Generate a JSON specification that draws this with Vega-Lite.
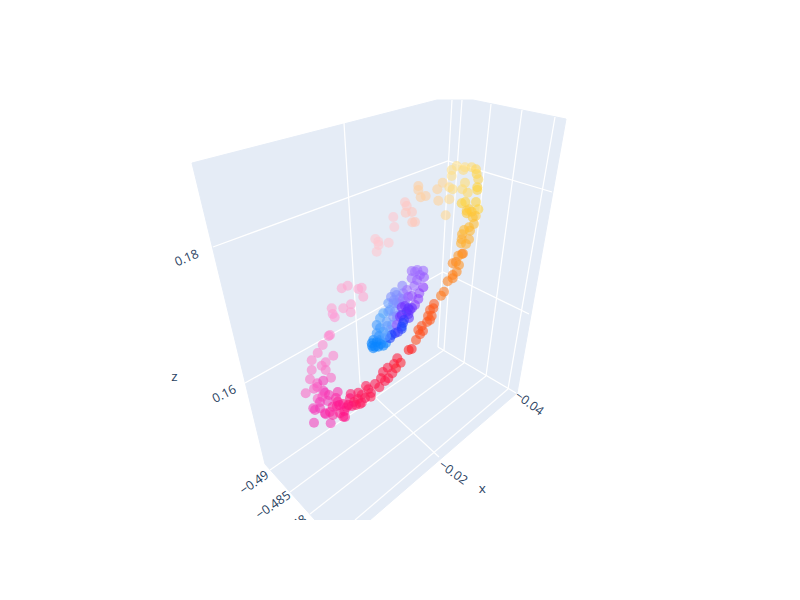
{"$schema":"https://vega.github.io/schema/vega-lite/v6.json","width":800,"height":600,"autosize":{"type":"fit","contains":"padding"},"padding":0,"background":"white","view":{"stroke":null},
"datasets":{
"pane":[{"sx":192,"sy":163,"i":0},{"sx":437,"sy":100,"i":1},{"sx":473,"sy":100,"i":2},{"sx":566,"sy":119,"i":3},{"sx":517,"sy":393,"i":4},{"sx":370,"sy":520,"i":5},{"sx":315,"sy":520,"i":6},{"sx":265,"sy":464,"i":7},{"sx":192,"sy":163,"i":8}],
"grid":[
{"g":"z18","sx":213,"sy":247,"i":0},{"g":"z18","sx":448,"sy":161,"i":1},{"g":"z18","sx":552,"sy":192,"i":2},
{"g":"z16","sx":245,"sy":383,"i":0},{"g":"z16","sx":443,"sy":272,"i":1},{"g":"z16","sx":529,"sy":314,"i":2},
{"g":"a","sx":452,"sy":100,"i":0},{"g":"a","sx":438,"sy":347,"i":1},
{"g":"b","sx":462,"sy":100,"i":0},{"g":"b","sx":444,"sy":350,"i":1},
{"g":"c","sx":491,"sy":104,"i":0},{"g":"c","sx":464,"sy":363,"i":1},
{"g":"d","sx":522,"sy":110,"i":0},{"g":"d","sx":486,"sy":376,"i":1},
{"g":"e","sx":555,"sy":117,"i":0},{"g":"e","sx":508,"sy":389,"i":1},
{"g":"x4","sx":516,"sy":393,"i":0},{"g":"x4","sx":438,"sy":347,"i":1},
{"g":"x2","sx":344,"sy":123,"i":0},{"g":"x2","sx":360,"sy":383,"i":1},{"g":"x2","sx":439,"sy":457,"i":2},
{"g":"y1","sx":270,"sy":470,"i":0},{"g":"y1","sx":444,"sy":350,"i":1},
{"g":"y2","sx":290,"sy":492,"i":0},{"g":"y2","sx":464,"sy":363,"i":1},
{"g":"y3","sx":310,"sy":514,"i":0},{"g":"y3","sx":486,"sy":376,"i":1},
{"g":"y4","sx":355,"sy":520,"i":0},{"g":"y4","sx":508,"sy":389,"i":1}
],
"points":[
{"sx":345,"sy":417,"p":17},{"sx":330.7,"sy":423.3,"p":16},{"sx":314,"sy":422.7,"p":16},{"sx":325.7,"sy":414.3,"p":16},{"sx":320,"sy":408.3,"p":16},{"sx":313.3,"sy":408.3,"p":16},{"sx":315,"sy":410,"p":16},{"sx":325,"sy":413.3,"p":16.4},{"sx":327.7,"sy":401,"p":16},{"sx":317.7,"sy":398.7,"p":15.7},{"sx":305.7,"sy":393.3,"p":15.6},{"sx":314,"sy":388.7,"p":15.7},{"sx":323.3,"sy":390.7,"p":16},{"sx":325,"sy":392.7,"p":16},{"sx":322.3,"sy":396.7,"p":15.8},{"sx":317.3,"sy":387,"p":15.7},{"sx":317.3,"sy":383.3,"p":15.7},{"sx":323.3,"sy":380.7,"p":16},{"sx":331,"sy":377.7,"p":15.6},{"sx":310,"sy":379.3,"p":15.5},{"sx":311.7,"sy":370,"p":15.4},{"sx":325.7,"sy":370,"p":15.5},{"sx":321.7,"sy":365.7,"p":15.4},{"sx":325.7,"sy":362.3,"p":15.4},{"sx":311.7,"sy":360.3,"p":15.3},{"sx":333.3,"sy":355.7,"p":15.3},{"sx":317.7,"sy":353,"p":15.3},{"sx":322.7,"sy":345,"p":15.2},{"sx":328.7,"sy":336,"p":15.3},{"sx":330,"sy":335,"p":15.2},
{"sx":334.7,"sy":317.3,"p":15},{"sx":332.7,"sy":314,"p":15},{"sx":331.7,"sy":308.3,"p":14.8},{"sx":343.3,"sy":308.3,"p":14.8},{"sx":351,"sy":304.3,"p":14.8},{"sx":350.7,"sy":312.3,"p":14.8},{"sx":341.7,"sy":288.3,"p":14.7},{"sx":347.7,"sy":285.7,"p":14.7},{"sx":358.3,"sy":289,"p":14.7},{"sx":361.7,"sy":287.7,"p":14.7},{"sx":363.3,"sy":296.7,"p":14.7},
{"sx":375.3,"sy":239,"p":14},{"sx":378.3,"sy":241.7,"p":14},{"sx":378.7,"sy":245,"p":14},{"sx":388.7,"sy":242.7,"p":14},{"sx":376.7,"sy":251.7,"p":14},
{"sx":393.3,"sy":217,"p":14},{"sx":394.3,"sy":227,"p":14},{"sx":405,"sy":202.3,"p":13.7},{"sx":406.7,"sy":206,"p":13.7},{"sx":412,"sy":212,"p":13.6},{"sx":405.7,"sy":212.7,"p":13.6},{"sx":415,"sy":222,"p":13.5},{"sx":412.3,"sy":222.3,"p":13.5},
{"sx":418.3,"sy":186,"p":13},{"sx":418.3,"sy":190,"p":13},{"sx":420.7,"sy":197.3,"p":13},{"sx":425.7,"sy":196,"p":13},
{"sx":437.3,"sy":189.3,"p":12.7},{"sx":438.3,"sy":200.7,"p":12.7},{"sx":445.7,"sy":215.3,"p":12.4},{"sx":442.7,"sy":182.7,"p":12.6},{"sx":449.3,"sy":187.3,"p":12.2},{"sx":452.7,"sy":189.3,"p":11.8},{"sx":449.3,"sy":199.3,"p":12.3},
{"sx":451.7,"sy":170,"p":12},{"sx":456.7,"sy":166,"p":12},{"sx":465,"sy":167.3,"p":12},{"sx":471.7,"sy":167.3,"p":11.7},{"sx":476,"sy":169.3,"p":11.4},{"sx":463.3,"sy":170,"p":11.8},{"sx":451.7,"sy":176,"p":12},{"sx":476.7,"sy":174,"p":11.2},{"sx":478.3,"sy":179.3,"p":11.3},{"sx":465,"sy":182.7,"p":11.7},{"sx":462.3,"sy":189.3,"p":11.7},{"sx":467.7,"sy":192.7,"p":11.5},{"sx":477.3,"sy":187.3,"p":11},{"sx":477.3,"sy":190,"p":11},
{"sx":461.7,"sy":203.3,"p":11},{"sx":465.3,"sy":202,"p":11},{"sx":476,"sy":202,"p":11},{"sx":478.3,"sy":209.3,"p":11},{"sx":469.3,"sy":209.3,"p":10.8},{"sx":466.7,"sy":210.7,"p":10.8},{"sx":471.7,"sy":211.7,"p":10.7},{"sx":466.7,"sy":213.3,"p":10.7},{"sx":475.7,"sy":216,"p":10.6},{"sx":472.7,"sy":217.3,"p":10.6},{"sx":474,"sy":224,"p":10.4},{"sx":470,"sy":230.7,"p":10.2},{"sx":469,"sy":227.3,"p":10.3},{"sx":462,"sy":234.3,"p":10},{"sx":461.7,"sy":239.3,"p":10},{"sx":469,"sy":239.3,"p":10},{"sx":461,"sy":243.3,"p":10},{"sx":466,"sy":244,"p":10},{"sx":464,"sy":230,"p":10.3},{"sx":462,"sy":254,"p":9},{"sx":463,"sy":253.5,"p":9},{"sx":458.3,"sy":255.7,"p":9.3},{"sx":452.7,"sy":263.3,"p":9},{"sx":456,"sy":262,"p":9},{"sx":459,"sy":265,"p":9.2},{"sx":456.7,"sy":271.7,"p":9},{"sx":452.7,"sy":275,"p":8.8},{"sx":452.7,"sy":278.3,"p":8.8},{"sx":447.7,"sy":281.3,"p":8.8},{"sx":444,"sy":291.7,"p":8.6},{"sx":441,"sy":295.7,"p":8.6},
{"sx":433.3,"sy":308.3,"p":8},{"sx":434,"sy":304,"p":8},{"sx":430,"sy":310,"p":8},{"sx":428,"sy":316,"p":8},{"sx":431.7,"sy":316,"p":8},{"sx":430,"sy":320,"p":8},{"sx":427,"sy":322,"p":7.9},{"sx":421.7,"sy":326,"p":7.8},{"sx":418.3,"sy":330,"p":7.8},{"sx":423,"sy":331,"p":7.7},{"sx":420,"sy":334.3,"p":7.7},{"sx":416,"sy":340,"p":7.7},{"sx":408.7,"sy":350,"p":7},{"sx":411.7,"sy":349,"p":7},
{"sx":397.3,"sy":358.3,"p":18.8},{"sx":400.7,"sy":362.7,"p":19},{"sx":394,"sy":364,"p":18.8},{"sx":396,"sy":368.3,"p":19},{"sx":387.7,"sy":367.7,"p":18.7},{"sx":383,"sy":372,"p":18.6},{"sx":392.3,"sy":373.3,"p":18.7},{"sx":388.3,"sy":378.3,"p":18.6},{"sx":381,"sy":378.3,"p":18.6},{"sx":385,"sy":381,"p":18.5},{"sx":375,"sy":384,"p":18.4},{"sx":379.3,"sy":387.3,"p":18.5},{"sx":370.7,"sy":396.7,"p":18.4},{"sx":366,"sy":386,"p":18.3},{"sx":368.3,"sy":389.3,"p":18.3},{"sx":358.3,"sy":392.7,"p":18.1},{"sx":350.7,"sy":394,"p":17.8},{"sx":350,"sy":398.3,"p":17.6},{"sx":361.7,"sy":395,"p":18},{"sx":371,"sy":393,"p":18.3},{"sx":365,"sy":398,"p":18.2},{"sx":358,"sy":399,"p":18},{"sx":354,"sy":402,"p":18},{"sx":360,"sy":404,"p":18},{"sx":356,"sy":405,"p":18},{"sx":361.7,"sy":402.7,"p":18},{"sx":352,"sy":406,"p":17.7},{"sx":346.7,"sy":407.3,"p":17.6},{"sx":343,"sy":404,"p":17.4},{"sx":337.7,"sy":401.7,"p":17},{"sx":336.7,"sy":406,"p":17},{"sx":332.7,"sy":406.7,"p":16.8},{"sx":330,"sy":412,"p":16.6},{"sx":333,"sy":415,"p":16.6},{"sx":336,"sy":398,"p":16.6},{"sx":340,"sy":413.3,"p":17},{"sx":343.3,"sy":416.7,"p":17.2},{"sx":344.3,"sy":411,"p":17.2},{"sx":348.3,"sy":405,"p":17.5},{"sx":337.7,"sy":392,"p":16.4},{"sx":339.3,"sy":405,"p":17},{"sx":329,"sy":395,"p":16.2},{"sx":320,"sy":402,"p":16},
{"sx":373.3,"sy":348.3,"p":0},{"sx":375,"sy":346.7,"p":0},{"sx":378.3,"sy":346.7,"p":0},{"sx":383.3,"sy":345.7,"p":0},{"sx":371.7,"sy":343.3,"p":0},{"sx":376.7,"sy":341.7,"p":0},{"sx":373.3,"sy":340,"p":0},{"sx":380,"sy":340,"p":0},{"sx":372,"sy":346,"p":0},{"sx":381,"sy":344,"p":0},{"sx":386,"sy":343,"p":0.1},{"sx":379,"sy":336,"p":0.2},{"sx":385,"sy":338.3,"p":0.3},{"sx":376.7,"sy":333.3,"p":0.5},{"sx":383.3,"sy":331.7,"p":0.7},{"sx":380,"sy":328,"p":0.5},{"sx":376.7,"sy":325,"p":0.6},{"sx":390,"sy":330,"p":1.2},{"sx":387,"sy":326,"p":1.4},{"sx":392,"sy":325,"p":1.8},{"sx":380,"sy":318.3,"p":0.9},{"sx":386.7,"sy":321.7,"p":1.3},{"sx":383.3,"sy":313.3,"p":1},{"sx":388.3,"sy":311.7,"p":1.3},{"sx":390,"sy":310,"p":1.5},{"sx":395,"sy":311.7,"p":1.7},{"sx":393.3,"sy":316.7,"p":1.8},{"sx":396.7,"sy":320,"p":2},{"sx":397,"sy":316,"p":2.2},{"sx":388.3,"sy":303.3,"p":1.4},{"sx":393.3,"sy":303.3,"p":1.7},{"sx":396.7,"sy":302.7,"p":1.9},{"sx":399,"sy":304,"p":2.2},{"sx":394,"sy":300,"p":2},{"sx":391,"sy":297,"p":2},{"sx":395,"sy":292.3,"p":2},{"sx":396.7,"sy":295,"p":2},{"sx":400,"sy":298.3,"p":2.2},{"sx":403,"sy":299,"p":2.8},{"sx":402.3,"sy":285.7,"p":2.4},{"sx":403.3,"sy":293.3,"p":2.4},{"sx":407,"sy":290,"p":3},{"sx":405,"sy":301.7,"p":2.6},{"sx":411.7,"sy":271,"p":3},{"sx":415,"sy":271.7,"p":3},{"sx":417.3,"sy":270,"p":3},{"sx":423.3,"sy":270.7,"p":3.1},{"sx":420,"sy":275,"p":3.2},{"sx":417,"sy":280,"p":3.4},{"sx":424,"sy":277.3,"p":3.4},{"sx":411.7,"sy":278.3,"p":3},{"sx":414.3,"sy":286,"p":3.2},{"sx":408.3,"sy":296.7,"p":3.3},{"sx":412,"sy":296,"p":3.5},{"sx":419.3,"sy":293.3,"p":3.6},{"sx":418.3,"sy":299,"p":3.8},{"sx":415,"sy":305,"p":3.8},{"sx":423.3,"sy":287.3,"p":4},{"sx":401.7,"sy":307.3,"p":4.4},{"sx":405,"sy":306,"p":4.4},{"sx":412,"sy":308,"p":4.6},{"sx":408.3,"sy":308.3,"p":4.8},{"sx":406.7,"sy":311.7,"p":4.8},{"sx":408.3,"sy":314.3,"p":4.8},{"sx":410,"sy":310,"p":4.6},{"sx":409,"sy":318,"p":4.8},{"sx":401.7,"sy":315,"p":5},{"sx":400,"sy":316.7,"p":4.4},{"sx":396.7,"sy":325,"p":3.5},{"sx":404,"sy":320,"p":5.5},{"sx":403,"sy":323,"p":5.8},{"sx":401.7,"sy":326.7,"p":6},{"sx":401.7,"sy":329,"p":6},{"sx":398,"sy":332,"p":5.6},{"sx":395,"sy":333.3,"p":5.5},{"sx":391.7,"sy":335,"p":6},{"sx":390,"sy":338.3,"p":6},{"sx":386,"sy":336,"p":1.2}
],
"label18":[{"sx":186.7,"sy":258,"t":"0.18"}],
"label16":[{"sx":224.3,"sy":394,"t":"0.16"}],
"labelY":[{"sx":254.3,"sy":482.7,"t":"−0.49"},{"sx":273.3,"sy":505,"t":"−0.485"},{"sx":292.5,"sy":527,"t":"−0.48"}],
"labelX":[{"sx":453.3,"sy":472.7,"t":"−0.02"},{"sx":529.3,"sy":403.3,"t":"−0.04"}],
"titles":[{"sx":174.3,"sy":377,"t":"z"},{"sx":482.3,"sy":489,"t":"x"}],
"mask":[{"sx":0,"sx2":800,"sy":520,"sy2":600}]
},
"encoding":{"x":{"field":"sx","type":"quantitative","scale":{"domain":[0,800],"nice":false,"zero":false},"axis":null},"y":{"field":"sy","type":"quantitative","scale":{"domain":[600,0],"nice":false,"zero":false},"axis":null}},
"layer":[
{"data":{"name":"pane"},"mark":{"type":"line","fill":"#e5ecf6","stroke":"#e5ecf6","strokeWidth":1},"encoding":{"order":{"field":"i","type":"quantitative"}}},
{"data":{"name":"grid"},"mark":{"type":"line","stroke":"white","strokeWidth":1.25},"encoding":{"detail":{"field":"g","type":"nominal"},"order":{"field":"i","type":"quantitative"}}},
{"data":{"name":"points"},"mark":{"type":"circle","opacity":0.58,"size":100},"encoding":{"color":{"field":"p","type":"quantitative","legend":null,"scale":{"domain":[0,1,2,3,4,5,6,7,8,9,10,11,12,13,14,15,16,17,18,19],"range":["#0a85ff","#5aa8ff","#7f90ff","#a070ff","#8a30ff","#4a30ff","#1a40ff","#ff2020","#ff5a1e","#ff8a1e","#ffb030","#ffd23c","#ffe08a","#ffcfa0","#ffc6cf","#ff98d4","#f53cba","#ff1a90","#ff1a60","#ff2030"]}}}},
{"data":{"name":"label18"},"mark":{"type":"text","font":"Open Sans","fontSize":12.5,"color":"#2a3f5f","angle":-23},"encoding":{"text":{"field":"t"}}},
{"data":{"name":"label16"},"mark":{"type":"text","font":"Open Sans","fontSize":12.5,"color":"#2a3f5f","angle":-27},"encoding":{"text":{"field":"t"}}},
{"data":{"name":"labelY"},"mark":{"type":"text","font":"Open Sans","fontSize":12.5,"color":"#2a3f5f","angle":-35},"encoding":{"text":{"field":"t"}}},
{"data":{"name":"labelX"},"mark":{"type":"text","font":"Open Sans","fontSize":12.5,"color":"#2a3f5f","angle":36},"encoding":{"text":{"field":"t"}}},
{"data":{"name":"titles"},"mark":{"type":"text","font":"Open Sans","fontSize":13.5,"color":"#2a3f5f"},"encoding":{"text":{"field":"t"}}},
{"data":{"name":"mask"},"mark":{"type":"rect","color":"white"},"encoding":{"x2":{"field":"sx2"},"y2":{"field":"sy2"}}}
]}
